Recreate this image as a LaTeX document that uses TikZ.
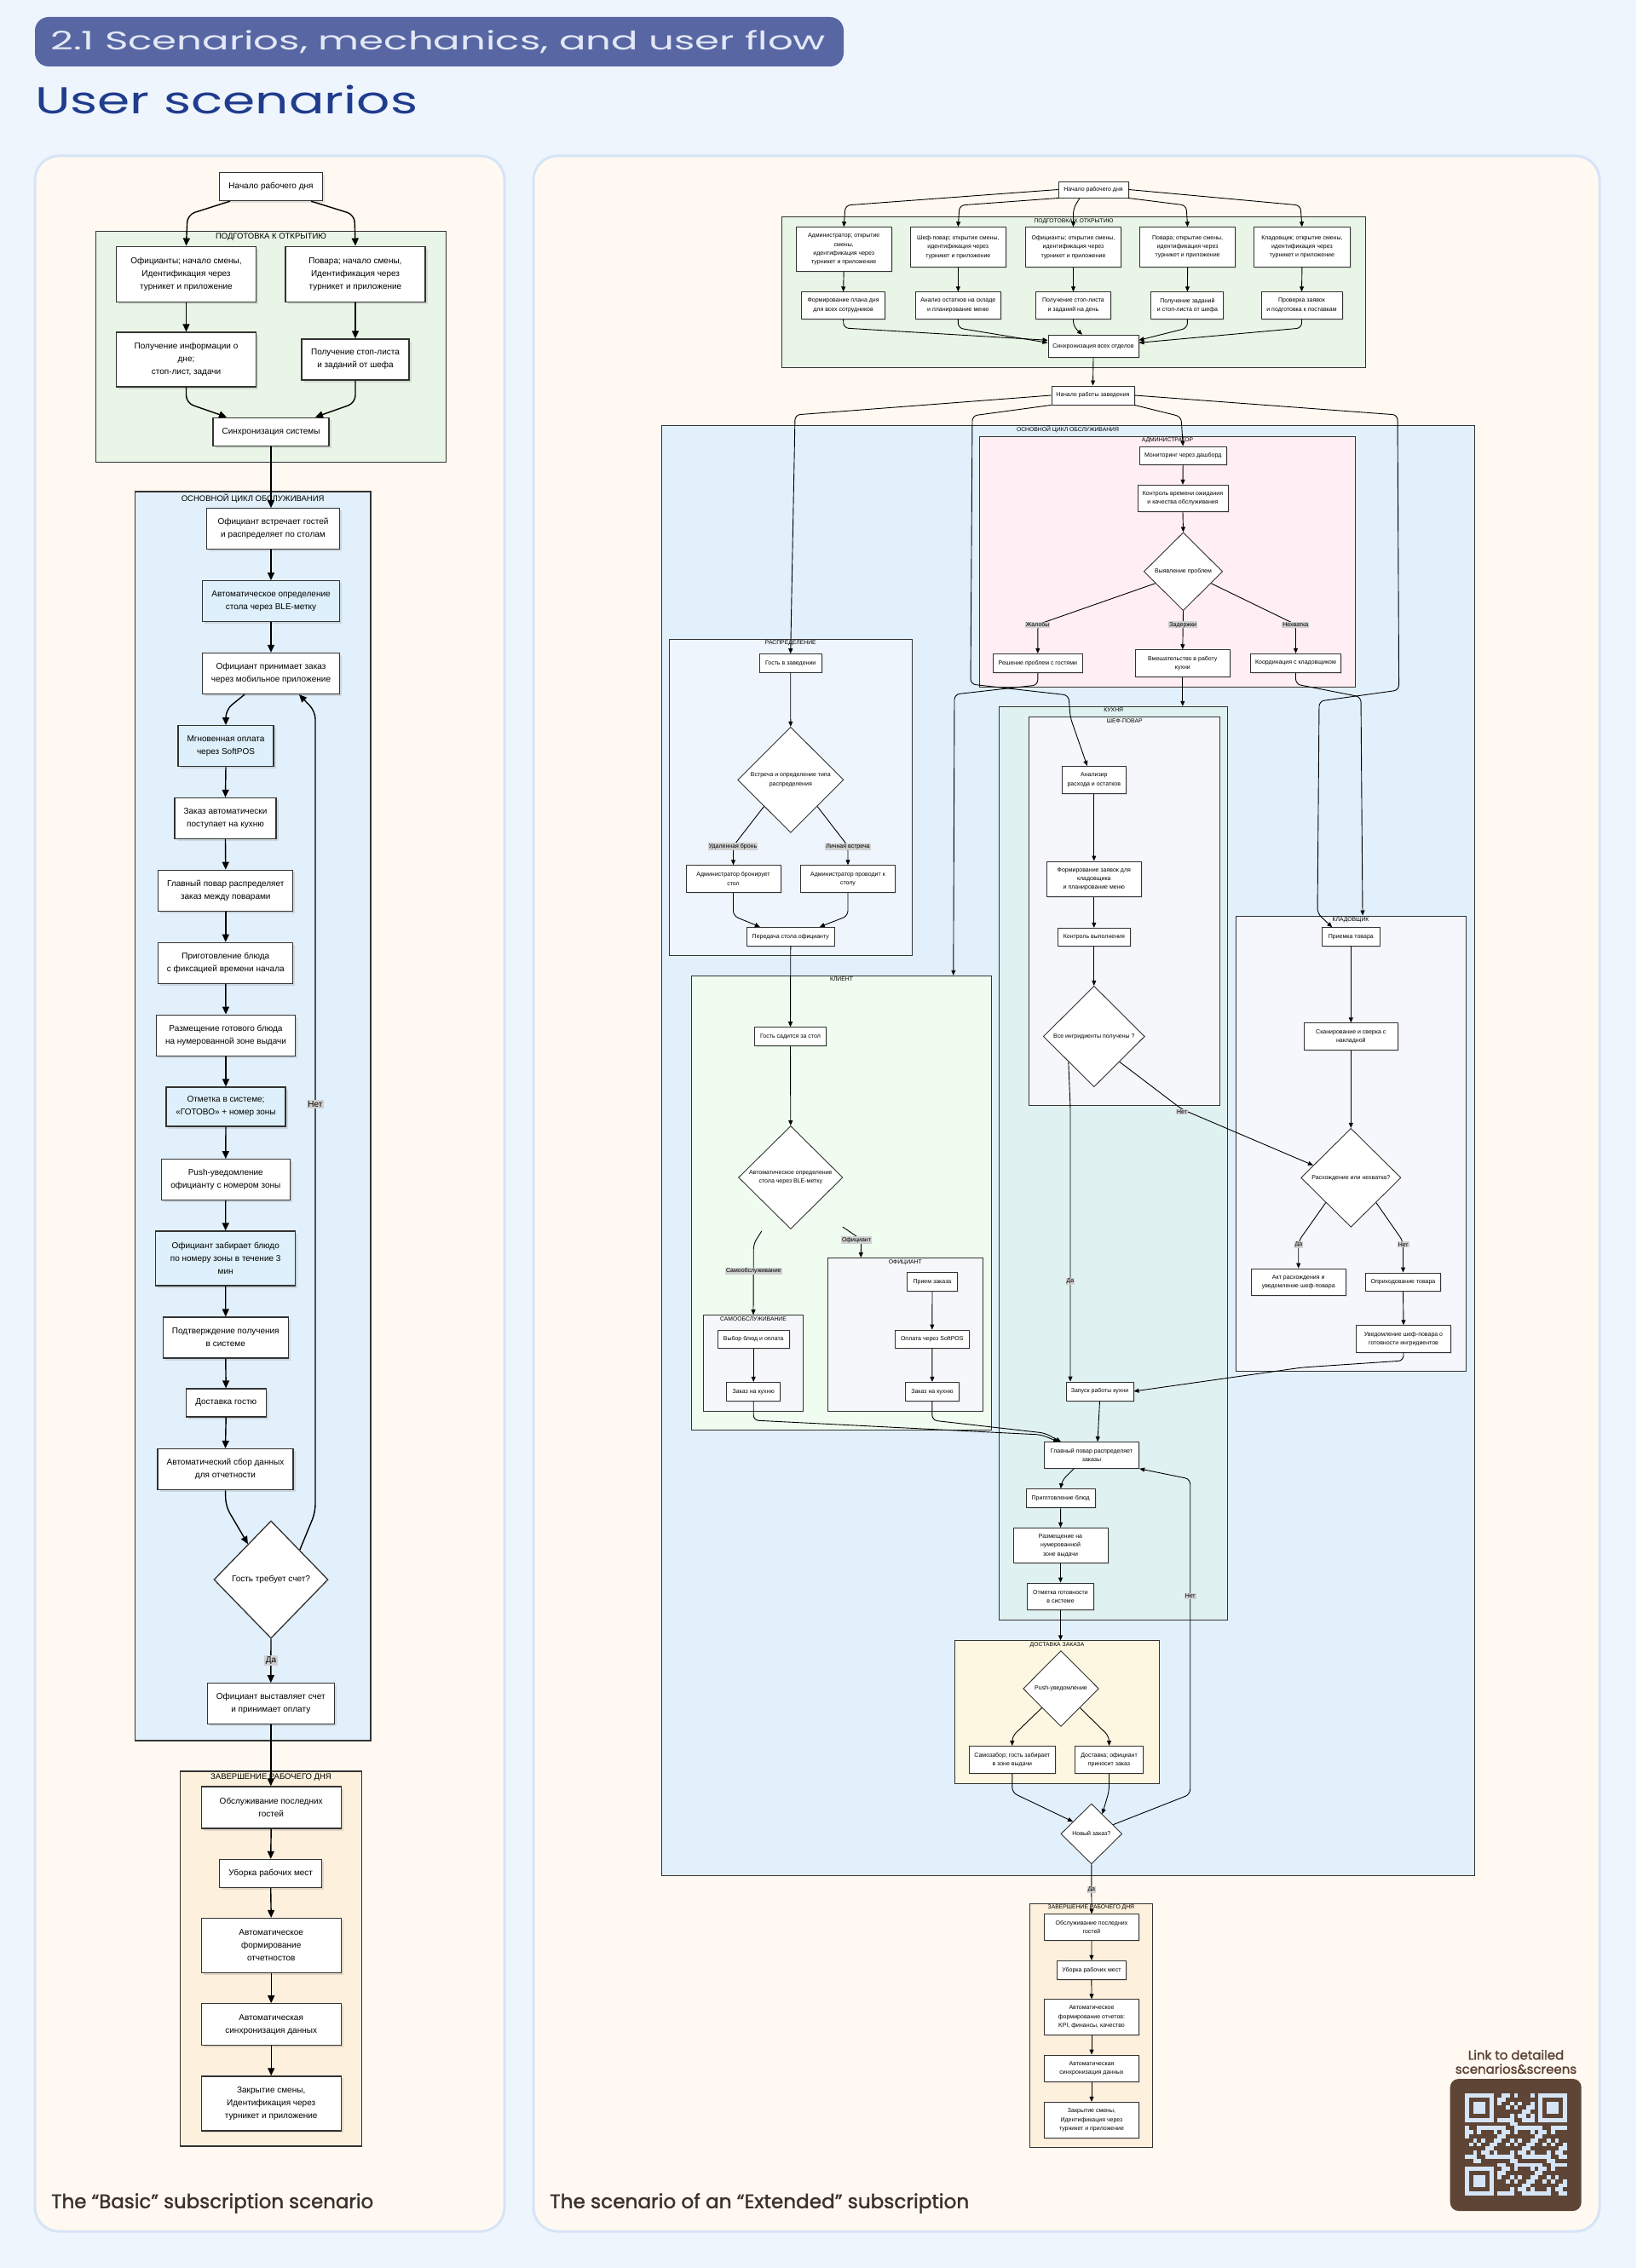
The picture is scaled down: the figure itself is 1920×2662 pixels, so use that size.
\documentclass[tikz,border=0pt]{standalone}
\usepackage{graphicx}
\usepackage{fontspec}
\setmainfont{Liberation Sans}
\newfontfamily\headfont{Poppins}
\newfontfamily\footfont{Poppins}[FakeBold=1.4]
\usepackage{tikz}
\usetikzlibrary{shapes.geometric}
\usetikzlibrary{arrows.meta}
\usetikzlibrary{positioning}
\usetikzlibrary{calc,shadows}

\definecolor{pagebg}{HTML}{EFF5FD}
\definecolor{panelbg}{HTML}{FFF9F1}
\definecolor{panelline}{HTML}{D6E4F7}
\definecolor{pillbg}{HTML}{5867A3}
\definecolor{pilltext}{HTML}{E3E8F6}
\definecolor{titleblue}{HTML}{203C8D}
\definecolor{foottext}{HTML}{3B302B}
\definecolor{linkbrown}{HTML}{5B4033}
\definecolor{linegray}{HTML}{333333}
\definecolor{prepgreen}{HTML}{E9F5E6}
\definecolor{cycleblue}{HTML}{E2F0FB}
\definecolor{boxcyan}{HTML}{DDF0FB}
\definecolor{endcream}{HTML}{FDF0DC}
\definecolor{adminpink}{HTML}{FFEEF3}
\definecolor{distblue}{HTML}{EEF5FC}
\definecolor{clientgreen}{HTML}{EFFCEF}
\definecolor{kitchenteal}{HTML}{DFF2F1}
\definecolor{subgray}{HTML}{F6F7FA}
\definecolor{storegray}{HTML}{F5F7FC}
\definecolor{delivyellow}{HTML}{FDF6E1}
\definecolor{lblgray}{HTML}{D0D0D0}
\definecolor{qrbrown}{HTML}{5E4535}
\definecolor{qrlight}{HTML}{D5E5F7}

\newcommand\lf{\fontsize{10}{15}\selectfont}
\newcommand\rf{\fontsize{7}{10.3}\selectfont}
\newcommand\ltf{\fontsize{9.5}{11}\selectfont}
\newcommand\rtf{\fontsize{6.8}{8}\selectfont}

\begin{document}
\begin{tikzpicture}[x=1pt, y=-1pt,
  sz/.style 2 args={minimum width=#1pt, minimum height=#2pt},
  panel/.style={draw=panelline, line width=3pt, fill=panelbg, rounded corners=28pt},
  lgrp/.style={draw=linegray, line width=1.3pt, inner sep=0pt},
  rgrp/.style={draw=linegray, line width=1pt, inner sep=0pt},
  gtl/.style={font=\ltf, anchor=north, inner sep=0pt, yshift=-3pt},
  gtr/.style={font=\rtf, anchor=north, inner sep=0pt, yshift=-2pt},
  lbox/.style={draw=linegray, fill=white, line width=1.3pt, align=center, inner sep=0pt, font=\lf,
    drop shadow={shadow xshift=2.5pt, shadow yshift=-2.5pt, opacity=.22}},
  lhi/.style={lbox, fill=boxcyan},
  rbox/.style={draw=linegray, fill=white, line width=.9pt, align=center, inner sep=0pt, font=\rf,
    drop shadow={shadow xshift=1.5pt, shadow yshift=-1.5pt, opacity=.2}},
  ldia/.style={diamond, draw=linegray, fill=white, line width=1.3pt, inner sep=0pt, align=center, font=\lf},
  rdia/.style={diamond, draw=linegray, fill=white, line width=.9pt, inner sep=0pt, align=center, font=\rf},
  larr/.style={-{Triangle[length=9pt, width=8pt]}, line width=1.4pt, rounded corners=9pt},
  rarr/.style={-{Triangle[length=6pt, width=5pt]}, line width=.9pt, rounded corners=6pt},
  llbl/.style={fill=lblgray, font=\lf, inner sep=1.5pt},
  rlbl/.style={fill=lblgray, font=\rf, inner sep=1pt}
]
\useasboundingbox (0,0) rectangle (1920,2662);
\fill[pagebg] (0,0) rectangle (1920,2662);
\draw[panel] (41,183) rectangle (592,2619);
\draw[panel] (626,183) rectangle (1877,2619);

% header
\node[fill=pillbg, rounded corners=16pt, sz={949}{58}] (pill) at (515.5,49) {};
\node[anchor=west, text=pilltext, inner sep=0pt] (head) at (59,49)
  {\resizebox{910pt}{\height}{\headfont\fontsize{30}{30}\selectfont 2.1 Scenarios, mechanics, and user flow}};
\node[anchor=west, text=titleblue, inner sep=0pt] (title) at (41,117)
  {\resizebox{449pt}{\height}{\headfont\fontsize{44}{44}\selectfont User scenarios}};

% ---------- basic scenario ----------
\node[lgrp, fill=prepgreen, sz={410.6}{270.6}] (Gprep) at (318,407) {};
\node[gtl] (tGprep) at (Gprep.north) {ПОДГОТОВКА К ОТКРЫТИЮ};
\node[lgrp, fill=cycleblue, sz={276.7}{1466}] (Gcyc) at (296.65,1310) {};
\node[gtl] (tGcyc) at (Gcyc.north) {ОСНОВНОЙ ЦИКЛ ОБСЛУЖИВАНИЯ};
\node[lgrp, fill=endcream, sz={212.6}{440}] (Gend) at (318,2298.9) {};
\node[gtl] (tGend) at (Gend.north) {ЗАВЕРШЕНИЕ РАБОЧЕГО ДНЯ};

\node[lbox, sz={121}{33}] (Ls) at (318,219) {Начало рабочего дня};
\node[lbox, sz={164}{65}] (La1) at (218.5,321.7) {Официанты; начало смены,\\Идентификация через\\турникет и приложение};
\node[lbox, sz={164}{65}] (Lb1) at (417,321.7) {Повара; начало смены,\\Идентификация через\\турникет и приложение};
\node[lbox, sz={164}{64}] (La2) at (218.5,422) {Получение информации о\\дне;\\стоп-лист, задачи};
\node[lbox, sz={126}{48}] (Lb2) at (417,422) {Получение стоп-листа\\и заданий от шефа};
\node[lbox, sz={136}{33}] (Lsync) at (318,506.7) {Синхронизация системы};
\node[lbox, sz={156}{48}] (Lm1) at (320.5,620.8) {Официант встречает гостей\\и распределяет по столам};
\node[lhi, sz={161}{48}] (Lm2) at (318,705.7) {Автоматическое определение\\стола через BLE-метку};
\node[lbox, sz={161}{48}] (Lm3) at (318,790.5) {Официант принимает заказ\\через мобильное приложение};
\node[lhi, sz={112}{48}] (Lm4) at (265,875.7) {Мгновенная оплата\\через SoftPOS};
\node[lbox, sz={119}{48}] (Lm5) at (264.5,960.5) {Заказ автоматически\\поступает на кухню};
\node[lbox, sz={158}{48}] (Lm6) at (264.8,1045.3) {Главный повар распределяет\\заказ между поварами};
\node[lbox, sz={158}{48}] (Lm7) at (264.8,1130.3) {Приготовление блюда\\с фиксацией времени начала};
\node[lbox, sz={163}{48}] (Lm8) at (265,1215.2) {Размещение готового блюда\\на нумерованной зоне выдачи};
\node[lhi, sz={140}{46}] (Lm9) at (265,1299) {Отметка в системе;\\«ГОТОВО» + номер зоны};
\node[lbox, sz={151}{48}] (Lm10) at (264.8,1384.7) {Push-уведомление\\официанту с номером зоны};
\node[lhi, sz={164}{64}] (Lm11) at (264.7,1477) {Официант забирает блюдо\\по номеру зоны в течение 3\\мин};
\node[lbox, sz={147}{48}] (Lm12) at (264.8,1570) {Подтверждение получения\\в системе};
\node[lbox, sz={94}{33}] (Lm13) at (265.2,1646.5) {Доставка гостю};
\node[lbox, sz={159}{48}] (Lm14) at (264.5,1724.6) {Автоматический сбор данных\\для отчетности};
\node[ldia, sz={134}{138}] (Ld) at (318,1854) {Гость требует счет?};
\node[lbox, sz={149}{48}] (Lm15) at (317.8,1999.8) {Официант выставляет счет\\и принимает оплату};
\node[lbox, sz={164}{49}] (Le1) at (318.2,2121.5) {Обслуживание последних\\гостей};
\node[lbox, sz={120}{33}] (Le2) at (317.7,2198.9) {Уборка рабочих мест};
\node[lbox, sz={164}{64}] (Le3) at (318.2,2283.5) {Автоматическое\\формирование\\отчетностов};
\node[lbox, sz={164}{49}] (Le4) at (318.2,2376.3) {Автоматическая\\синхронизация данных};
\node[lbox, sz={164}{64}] (Le5) at (318.2,2468.9) {Закрытие смены,\\Идентификация через\\турникет и приложение};

\draw[larr] ([xshift=-48pt]Ls.south) -- (220,252) -- (La1.north);
\draw[larr] ([xshift=47pt]Ls.south) -- (416,252) -- (Lb1.north);
\draw[larr] (La1.south) -- (La2.north);
\draw[larr] (Lb1.south) -- (Lb2.north);
\draw[larr] (La2.south) -- (218.5,473) -- ([xshift=-52pt]Lsync.north);
\draw[larr] (Lb2.south) -- (417,473) -- ([xshift=52pt]Lsync.north);
\draw[larr] (Lsync.south) -- (Lsync.south |- Lm1.north);
\draw[larr] (Lm2.north |- Lm1.south) -- (Lm2.north);
\draw[larr] (Lm2.south) -- (Lm3.north);
\draw[larr] ([xshift=-31pt]Lm3.south) -- (265,833) -- (Lm4.north);
\foreach \a/\b in {Lm4/Lm5, Lm5/Lm6, Lm6/Lm7, Lm7/Lm8, Lm8/Lm9, Lm9/Lm10,
                   Lm10/Lm11, Lm11/Lm12, Lm12/Lm13, Lm13/Lm14, Le1/Le2, Le2/Le3, Le3/Le4, Le4/Le5}
  \draw[larr] (\a.south) -- (\b.north);
\draw[larr] (Lm14.south) -- (265,1768) -- ($(Ld.north)!0.4!(Ld.west)$);
\draw[larr] (Ld.north east) -- (370,1775) -- (370,835) -- ([xshift=33pt]Lm3.south);
\draw[larr] (Ld.south) -- (Lm15.north);
\draw[larr] (Lm15.south) -- (Lm15.south |- Le1.north);
\node[llbl] (Lno) at (370,1296) {Нет};
\node[llbl] (Lyes) at (318,1949) {Да};

% ---------- extended scenario ----------
\node[rgrp, fill=prepgreen, sz={685.1}{176}] (Hprep) at (1260,343) {};
\node[gtr] (tHprep) at (Hprep.north) {ПОДГОТОВКА К ОТКРЫТИЮ};
\node[rgrp, fill=cycleblue, sz={954}{1702}] (Hcyc) at (1253,1350) {};
\node[gtr] (tHcyc) at (Hcyc.north) {ОСНОВНОЙ ЦИКЛ ОБСЛУЖИВАНИЯ};
\node[rgrp, fill=adminpink, sz={441.4}{293.7}] (Hadm) at (1370,659.15) {};
\node[gtr] (tHadm) at (Hadm.north) {АДМИНИСТРАТОР};
\node[rgrp, fill=distblue, sz={285.7}{371.7}] (Hdist) at (927.85,935.85) {};
\node[gtr] (tHdist) at (Hdist.north) {РАСПРЕДЕЛЕНИЕ};
\node[rgrp, fill=clientgreen, sz={351.6}{533.1}] (Hcli) at (987.5,1411.85) {};
\node[gtr] (tHcli) at (Hcli.north) {КЛИЕНТ};
\node[rgrp, fill=subgray, sz={116.6}{113}] (Hself) at (884,1600.2) {};
\node[gtr] (tHself) at (Hself.north) {САМООБСЛУЖИВАНИЕ};
\node[rgrp, fill=subgray, sz={182}{180.1}] (Hwait) at (1062.3,1566.65) {};
\node[gtr] (tHwait) at (Hwait.north) {ОФИЦИАНТ};
\node[rgrp, fill=kitchenteal, sz={268}{1071.7}] (Hkit) at (1306.7,1365.15) {};
\node[gtr] (tHkit) at (Hkit.north) {КУХНЯ};
\node[rgrp, fill=subgray, sz={224}{456}] (Hchef) at (1319.7,1069.7) {};
\node[gtr] (tHchef) at (Hchef.north) {ШЕФ-ПОВАР};
\node[rgrp, fill=storegray, sz={270}{534}] (Hstore) at (1585,1342) {};
\node[gtr] (tHstore) at (Hstore.north) {КЛАДОВЩИК};
\node[rgrp, fill=delivyellow, sz={239.6}{167.2}] (Hdel) at (1240.5,2009.4) {};
\node[gtr] (tHdel) at (Hdel.north) {ДОСТАВКА ЗАКАЗА};
\node[rgrp, fill=endcream, sz={144.4}{286.7}] (Hend) at (1280.4,2377.35) {};
\node[gtr] (tHend) at (Hend.north) {ЗАВЕРШЕНИЕ РАБОЧЕГО ДНЯ};

\node[rbox, sz={82}{19}] (Rs) at (1283,222.5) {Начало рабочего дня};
\node[rbox, sz={111.6}{51.6}] (RA1) at (990.2,292.5) {Администратор; открытие\\смены,\\идентификация через\\турникет и приложение};
\node[rbox, sz={111.5}{46.6}] (RB1) at (1124.3,290) {Шеф-повар; открытие смены,\\идентификация через\\турникет и приложение};
\node[rbox, sz={112}{46.6}] (RC1) at (1259.5,290) {Официанты; открытие смены,\\идентификация через\\турникет и приложение};
\node[rbox, sz={112}{46.6}] (RD1) at (1393.6,290) {Повара; открытие смены,\\идентификация через\\турникет и приложение};
\node[rbox, sz={112.5}{46.6}] (RE1) at (1527.9,290) {Кладовщик; открытие смены,\\идентификация через\\турникет и приложение};
\node[rbox, sz={98.3}{31.3}] (RA2) at (989.6,358.4) {Формирование плана дня\\для всех сотрудников};
\node[rbox, sz={99.5}{31.3}] (RB2) at (1124.3,358.4) {Анализ остатков на складе\\и планирование меню};
\node[rbox, sz={87.2}{31.3}] (RC2) at (1259.5,358.4) {Получение стоп-листа\\и заданий на день};
\node[rbox, sz={85}{31.3}] (RD2) at (1393.4,358.4) {Получение заданий\\и стоп-листа от шефа};
\node[rbox, sz={95}{31.3}] (RE2) at (1527.5,358.4) {Проверка заявок\\и подготовка к поставкам};
\node[rbox, sz={106}{26}] (Rsync) at (1283,406.3) {Синхронизация всех отделов};
\node[rbox, sz={97}{22}] (Ropen) at (1282.5,464) {Начало работы заведения};

\node[rbox, sz={101.7}{21}] (Rmon) at (1388.2,534.5) {Мониторинг через дашборд};
\node[rbox, sz={106}{31.4}] (Rctl) at (1388,585) {Контроль времени ожидания\\и качества обслуживания};
\node[rdia, sz={92.4}{91.7}] (Rprob) at (1388.5,670.8) {Выявление проблем};
\node[rbox, sz={104.3}{22}] (Rguest) at (1217.8,778.3) {Решение проблем с гостями};
\node[rbox, sz={111}{31.6}] (Rkit) at (1387.8,778.5) {Вмешательство в работу\\кухни};
\node[rbox, sz={106.4}{22}] (Rcoord) at (1520.5,778.3) {Координация с кладовщиком};

\node[rbox, sz={73.3}{21.3}] (Rmeet) at (927.7,778.3) {Гость в заведении};
\node[rdia, sz={124.3}{124}] (Rtype) at (927.8,915.3) {Встреча и определение типа\\распределения};
\node[rbox, sz={111}{31.6}] (Rbook) at (860.5,1031.5) {Администратор бронирует\\стол};
\node[rbox, sz={111.4}{31.6}] (Rlead) at (995,1031.5) {Администратор проводит к\\столу};
\node[rbox, sz={102.3}{21.7}] (Rhand) at (927.8,1099.2) {Передача стола официанту};

\node[rbox, sz={83.6}{21.7}] (Rseat) at (927.5,1216.5) {Гость садится за стол};
\node[rdia, sz={122.3}{121}] (Rble) at (927.8,1382) {Автоматическое определение\\стола через BLE-метку};
\node[rbox, sz={83.7}{21.4}] (Rsel) at (884.2,1572) {Выбор блюд и оплата};
\node[rbox, sz={63}{22.3}] (Rso1) at (884.2,1633.5) {Заказ на кухню};
\node[rbox, sz={58.6}{21.7}] (Rtake) at (1094,1504.7) {Прием заказа};
\node[rbox, sz={87}{21.7}] (Rpay) at (1093.8,1571.9) {Оплата через SoftPOS};
\node[rbox, sz={63.7}{22.3}] (Rso2) at (1093.9,1633.5) {Заказ на кухню};

\node[rbox, sz={75.7}{31.7}] (Ranal) at (1283.8,915.2) {Анализир\\расхода и остатков};
\node[rbox, sz={111}{41.7}] (Rreq) at (1283.8,1031.8) {Формирование заявок для\\кладовщика\\и планирование меню};
\node[rbox, sz={85}{20.7}] (Rctrl) at (1283.8,1099.7) {Контроль выполнения};
\node[rdia, sz={119}{118.4}] (Rall) at (1283.8,1216.5) {Все ингридиенты получены ?};
\node[rbox, sz={79}{22}] (Rlaunch) at (1290.5,1633) {Запуск работы кухни};
\node[rbox, sz={111.4}{30.8}] (Rdist) at (1281,1708) {Главный повар распределяет\\заказы};
\node[rbox, sz={80.7}{21.4}] (Rcook) at (1244.7,1758.3) {Приготовление блюд};
\node[rbox, sz={111}{41.2}] (Rplace) at (1244.5,1814) {Размещение на\\нумерованной\\зоне выдачи};
\node[rbox, sz={77.6}{31.6}] (Rmark) at (1244.5,1873.8) {Отметка готовности\\в системе};

\node[rbox, sz={67.3}{21.2}] (Rrecv) at (1585.3,1099.4) {Приемка товара};
\node[rbox, sz={110.7}{31.8}] (Rscan) at (1585.3,1216.6) {Сканирование и сверка с\\накладной};
\node[rdia, sz={117.3}{116}] (Rdisc) at (1585.3,1382.3) {Расхождение или нехватка?};
\node[rbox, sz={110.7}{31.5}] (Ract) at (1523.7,1504.8) {Акт расхождения и\\уведомление шеф-повара};
\node[rbox, sz={88.4}{21.4}] (Rin) at (1646.5,1504.7) {Оприходование товара};
\node[rbox, sz={110.6}{31.3}] (Rnot) at (1647,1571.4) {Уведомление шеф-повара о\\готовности ингридиентов};

\node[rdia, sz={88.6}{89}] (Rpush) at (1245,1982) {Push-уведомление};
\node[rbox, sz={101}{31.8}] (Rpick) at (1187.8,2065.4) {Самозабор; гость забирает\\в зоне выдачи};
\node[rbox, sz={79.6}{31.8}] (Rdeliv) at (1301.5,2065.4) {Доставка; официант\\приносит заказ};
\node[rdia, sz={71.7}{70.8}] (Rnew) at (1280.8,2152.4) {Новый заказ?};

\node[rbox, sz={111}{31}] (Re1) at (1281,2262.2) {Обслуживание последних\\гостей};
\node[rbox, sz={81}{22}] (Re2) at (1280.9,2312.3) {Уборка рабочих мест};
\node[rbox, sz={111}{41.6}] (Re3) at (1281,2367.5) {Автоматическое\\формирование отчетов:\\KPI, финансы, качество};
\node[rbox, sz={111}{31.3}] (Re4) at (1281,2427.7) {Автоматическая\\синхронизация данных};
\node[rbox, sz={111}{42}] (Re5) at (1281,2488.3) {Закрытие смены,\\Идентификация через\\турникет и приложение};

% opening
\draw[rarr] (Rs.west) -- (992,241) -- (RA1.north);
\draw[rarr] ([xshift=1pt]Rs.south west) -- (1126,241) -- (RB1.north);
\draw[rarr] ([xshift=-16pt]Rs.south) -- (1259.5,245) -- (RC1.north);
\draw[rarr] ([xshift=-1pt]Rs.south east) -- (1392,241) -- (RD1.north);
\draw[rarr] (Rs.east) -- (1526,241) -- (RE1.north);
\foreach \c in {A,...,E} \draw[rarr] (R\c1.south) -- (R\c2.north);
\draw[rarr] (RA2.south) -- (990,385) -- ([yshift=7pt]Rsync.west);
\draw[rarr] (RB2.south) -- (1124.3,385) -- ([yshift=4pt]Rsync.west);
\draw[rarr] (RC2.south) -- (1259.5,383) -- ([xshift=-13pt]Rsync.north);
\draw[rarr] (RD2.south) -- (1393.4,385) -- ([yshift=7pt]Rsync.east);
\draw[rarr] (RE2.south) -- (1527.5,385) -- ([yshift=4pt]Rsync.east);
\draw[rarr] (Rsync.south) -- (Ropen.north);
\draw[rarr] (Ropen.west) -- (933,487) -- (Rmeet.north);
\draw[rarr] (Ropen.south west) -- (1141,488) -- (1139,803) -- (1254,816) -- (1256,842) -- ([xshift=-8pt]Ranal.north);
\draw[rarr] (Ropen.south east) -- (1386,489) -- (Rmon.north);
\draw[rarr] (Ropen.east) -- (1640,487) -- (1641.6,810) -- (1548,823) -- (1546,1072) -- ([xshift=-22pt]Rrecv.north);

% administrator
\draw[rarr] (Rmon.south) -- (Rctl.north);
\draw[rarr] (Rctl.south) -- (Rprob.north);
\draw[rarr] ($(Rprob.west)!0.3!(Rprob.south)$) -- (1217.8,733) -- (Rguest.north);
\draw[rarr] (Rprob.south) -- (Rkit.north);
\draw[rarr] ($(Rprob.east)!0.3!(Rprob.south)$) -- (1520.5,733) -- (Rcoord.north);
\draw[rarr] (Rguest.south) -- (1217.8,804) -- (1120,815) -- ($(Hcli.north east)+(-45,0)$);
\draw[rarr] (Rkit.south) -- (Rkit.south |- Hkit.north);
\draw[rarr] (Rcoord.south) -- (1520.5,803) -- (1597,818) -- ($(Hstore.north)+(14,0)$);

% seating
\draw[rarr] (Rmeet.south) -- (Rtype.north);
\draw[rarr] (Rtype.south west) -- (860.5,993) -- (Rbook.north);
\draw[rarr] (Rtype.south east) -- (995,993) -- (Rlead.north);
\draw[rarr] (Rbook.south) -- (860.5,1075) -- ([xshift=-36pt]Rhand.north);
\draw[rarr] (Rlead.south) -- (995,1075) -- ([xshift=34pt]Rhand.north);
\draw[rarr] (Rhand.south) -- (Rseat.north);
\draw[rarr] (Rseat.south) -- (Rble.north);
\draw[rarr] ([xshift=-34pt,yshift=-2pt]Rble.south) -- (884.3,1460) -- (Hself.north);
\draw[rarr] ([xshift=61pt,yshift=3pt]Rble.south) -- (1010.7,1455) -- ($(Hwait.north west)+(39.4,0)$);
\draw[rarr] (Rsel.south) -- (Rso1.north);
\draw[rarr] (Rtake.south) -- (Rpay.north);
\draw[rarr] (Rpay.south) -- (Rso2.north);
\draw[rarr] (Rso1.south) -- (884.2,1667) -- (1222,1684) -- ([xshift=-39pt]Rdist.north);
\draw[rarr] (Rso2.south) -- (1093.9,1667) -- (1226,1682) -- ([xshift=-36pt]Rdist.north);

% kitchen
\draw[rarr] (Ranal.south) -- (Rreq.north);
\draw[rarr] (Rreq.south) -- (Rctrl.north);
\draw[rarr] (Rctrl.south) -- (Rall.north);
\draw[rarr] (Rall.south west) -- (1256,1300) -- ([xshift=-34.5pt]Rlaunch.north);
\draw[rarr] (Rall.south east) -- (1387,1302) -- ($(Rdisc.west)!0.25!(Rdisc.north)$);
\draw[rarr] (Rlaunch.south) -- ([xshift=7pt]Rdist.north);
\draw[rarr] ([xshift=-21pt]Rdist.south) -- (1246,1738) -- (Rcook.north);
\draw[rarr] (Rcook.south) -- (Rplace.north);
\draw[rarr] (Rplace.south) -- (Rmark.north);
\draw[rarr] (Rmark.south) -- (Rmark.south |- Hdel.north);

% storekeeper
\draw[rarr] (Rrecv.south) -- (Rscan.north);
\draw[rarr] (Rscan.south) -- (Rdisc.north);
\draw[rarr] (Rdisc.south west) -- (1523.7,1457) -- (Ract.north);
\draw[rarr] (Rdisc.south east) -- (1646.5,1457) -- (Rin.north);
\draw[rarr] (Rin.south) -- (Rnot.north);
\draw[rarr] (Rnot.south) -- (1647,1597) -- (1528,1605) -- (Rlaunch.east);

% delivery
\draw[rarr] (Rpush.south west) -- (1187.8,2038) -- (Rpick.north);
\draw[rarr] (Rpush.south east) -- (1301.5,2038) -- (Rdeliv.north);
\draw[rarr] (Rpick.south) -- (1187.8,2104) -- ($(Rnew.west)!0.4!(Rnew.north)$);
\draw[rarr] (Rdeliv.south) -- (1301.5,2102) -- ($(Rnew.north)!0.35!(Rnew.east)$);
\draw[rarr] ($(Rnew.north)!0.7!(Rnew.east)$) -- (1396.7,2106) -- (1396.7,1736) -- (Rdist.south east);
\draw[rarr] (Rnew.south) -- (Re1.north);
\foreach \a/\b in {Re1/Re2, Re2/Re3, Re3/Re4, Re4/Re5}
  \draw[rarr] (\a.south) -- (\b.north);

\node[rlbl] (Ljal) at (1217.7,733.3) {Жалобы};
\node[rlbl] (Lzad) at (1388.3,733.3) {Задержки};
\node[rlbl] (Lnex) at (1520.3,733.3) {Нехватка};
\node[rlbl] (Lrem) at (860,993.7) {Удаленная бронь};
\node[rlbl] (Lpers) at (995,993.7) {Личная встреча};
\node[rlbl] (Lself) at (884.3,1492) {Самообслуживание};
\node[rlbl] (Lwait) at (1005,1455.3) {Официант};
\node[rlbl] (Lyes1) at (1256,1504) {Да};
\node[rlbl] (Lno1) at (1387,1305) {Нет};
\node[rlbl] (Lyes2) at (1524,1460.8) {Да};
\node[rlbl] (Lno2) at (1646.7,1460.8) {Нет};
\node[rlbl] (Lno3) at (1396.7,1873.4) {Нет};
\node[rlbl] (Lyes3) at (1280.8,2218) {Да};

% footer and link
\node[anchor=west, text=foottext, inner sep=0pt] (footL) at (60,2586)
  {\resizebox{378pt}{\height}{\footfont\fontsize{23}{23}\selectfont The “Basic” subscription scenario}};
\node[anchor=west, text=foottext, inner sep=0pt] (footR) at (645,2586)
  {\resizebox{492pt}{\height}{\footfont\fontsize{23}{23}\selectfont The scenario of an “Extended” subscription}};
\node[align=center, text=linkbrown, font=\footfont\fontsize{15}{16.5}\selectfont] (link) at (1779,2420)
  {Link to detailed\\scenarios\&screens};
\node[fill=qrbrown, rounded corners=10pt, sz={154}{155}] (qr) at (1778.7,2517.5) {};
\foreach \i in {0,...,24} {
  \foreach \j in {0,...,24} {
    \pgfmathtruncatemacro\qv{mod(\i*\i*7+\j*\j*3+\i*\j*5+\i*11+\j*13+3,9)}
    \pgfmathtruncatemacro\qskip{((\i<8)&&(\j<8))||((\i>16)&&(\j<8))||((\i<8)&&(\j>16))}
    \ifnum\qskip=0 \ifnum\qv<4
      \fill[qrlight] (1719+\i*4.8,2457+\j*4.8) rectangle ++(4.8,4.8);
    \fi\fi
  }
}
\foreach \fx/\fy in {0/0,18/0,0/18} {
  \fill[qrlight] (1719+\fx*4.8,2457+\fy*4.8) rectangle ++(33.6,33.6);
  \fill[qrbrown] (1723.8+\fx*4.8,2461.8+\fy*4.8) rectangle ++(24,24);
  \fill[qrlight] (1728.6+\fx*4.8,2466.6+\fy*4.8) rectangle ++(14.4,14.4);
}
\end{tikzpicture}
\end{document}
